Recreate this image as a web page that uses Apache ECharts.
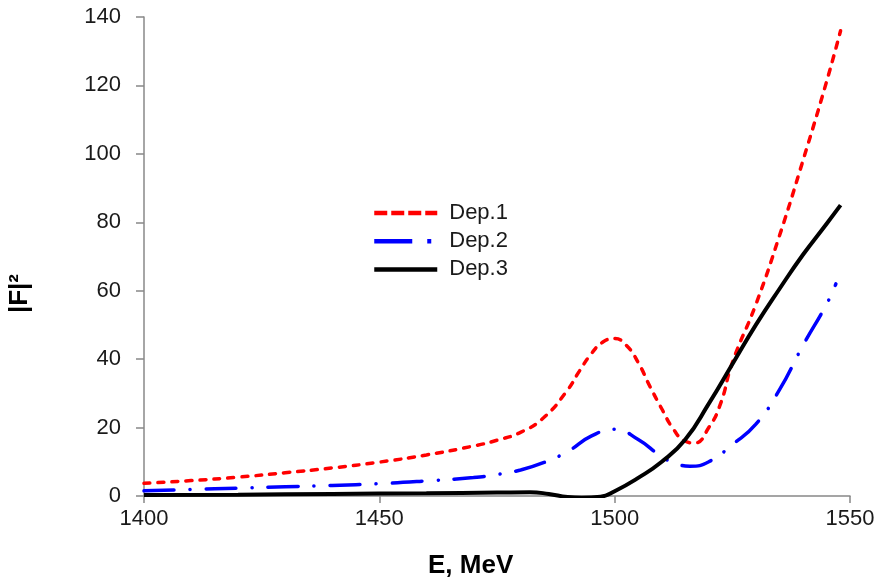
<!DOCTYPE html>
<html>
<head>
<meta charset="utf-8">
<script src="https://cdn.jsdelivr.net/npm/echarts@6/dist/echarts.min.js"></script>
<style>html,body{margin:0;padding:0;background:#fff}#c{width:880px;height:582px}</style>
</head>
<body>
<div id="c"></div>
<script>
var seriesNames = ['Dep.1', 'Dep.2', 'Dep.3'];
var xTicks = [1400, 1450, 1500, 1550];
var yTicks = [0, 20, 40, 60, 80, 100, 120, 140];

var e1 = [1400, 1410, 1420, 1430, 1440, 1450, 1460, 1470, 1475, 1480, 1485, 1490, 1492.5, 1495, 1497.5, 1500, 1502.5, 1505, 1507.5, 1510, 1512.5, 1515, 1517, 1520, 1522.5, 1525, 1530, 1535, 1540, 1545, 1548];
var dep1 = [3.7, 4.5, 5.5, 6.8, 8.2, 9.9, 12.0, 14.6, 16.3, 18.6, 23, 31, 36.5, 41.5, 45, 46, 44, 39, 32, 25.5, 19.5, 16, 15.5, 20, 27, 39, 56, 76, 98, 121, 136];

var e2 = [1400, 1410, 1420, 1430, 1440, 1450, 1460, 1470, 1475, 1480, 1485, 1490, 1495, 1500, 1505, 1510, 1513, 1516, 1520, 1525, 1530, 1535, 1540, 1545, 1547];
var dep2 = [1.5, 1.9, 2.3, 2.7, 3.1, 3.6, 4.4, 5.4, 6.3, 7.6, 9.8, 13, 17.5, 19.5, 16.5, 11.5, 9.5, 8.7, 10, 15, 21, 31, 44, 56, 62];

var e3 = [1400, 1420, 1440, 1460, 1475, 1482, 1486, 1490, 1493, 1497, 1500, 1505, 1510, 1515, 1520, 1525, 1530, 1535, 1540, 1545, 1548];
var dep3 = [0.3, 0.4, 0.6, 0.8, 1.0, 1.1, 0.6, -0.3, -0.5, -0.2, 1.4, 5.3, 10, 16.5, 27, 38.5, 50, 60.5, 70.5, 79.5, 85];

function pairs(xs, ys) { return xs.map(function (x, i) { return [x, ys[i]]; }); }

var chart = echarts.init(document.getElementById('c'));
var font = '"Liberation Sans", Arial, sans-serif';
chart.setOption({
  animation: false,
  backgroundColor: '#fff',
  grid: { left: 144, right: 30, top: 17, bottom: 86, containLabel: false },
  xAxis: {
    type: 'value', min: xTicks[0], max: xTicks[xTicks.length - 1], interval: 50,
    axisLine: { show: true, onZero: false, lineStyle: { color: '#888', width: 1.5 } },
    axisTick: { show: true, length: 7, lineStyle: { color: '#888', width: 1.5 } },
    splitLine: { show: false },
    axisLabel: { margin: 12, fontSize: 22, color: '#1a1a1a', fontFamily: font,
      formatter: function (v) { return String(v); } }
  },
  yAxis: {
    type: 'value', min: yTicks[0], max: yTicks[yTicks.length - 1], interval: 20,
    axisLine: { show: true, lineStyle: { color: '#888', width: 1.5 } },
    axisTick: { show: true, length: 8, lineStyle: { color: '#888', width: 1.5 } },
    splitLine: { show: false },
    axisLabel: { margin: 23, fontSize: 22, color: '#1a1a1a', fontFamily: font,
      formatter: function (v) { return String(v); } }
  },
  legend: {
    orient: 'vertical', left: 372, top: 202, padding: 0,
    itemWidth: 63, itemHeight: 14, itemGap: 6.2,
    itemStyle: { opacity: 0, borderWidth: 0 },
    textStyle: { fontSize: 22, color: '#1a1a1a', fontFamily: font, padding: [0, 0, 0, 7] },
    data: [
      { name: seriesNames[0], lineStyle: { width: 4.5, type: [13, 4], cap: 'butt' } },
      { name: seriesNames[1], lineStyle: { width: 4.5, type: [38, 15, 4, 50], cap: 'butt' } },
      { name: seriesNames[2], lineStyle: { width: 4.5 } }
    ]
  },
  graphic: [
    { type: 'text', left: 7, top: 274,
      style: { text: '|F|²', fill: '#000', font: 'bold 26px ' + font },
      rotation: Math.PI / 2 },
    { type: 'text', left: 428, top: 553,
      style: { text: 'E, MeV', fill: '#000', font: 'bold 26px ' + font } }
  ],
  series: [
    { name: seriesNames[0], type: 'line', smooth: true, symbol: 'none', data: pairs(e1, dep1),
      lineStyle: { color: '#ff0000', width: 3.5, type: [6, 8], cap: 'round' }, itemStyle: { color: '#ff0000' } },
    { name: seriesNames[1], type: 'line', smooth: true, symbol: 'none', data: pairs(e2, dep2),
      lineStyle: { color: '#0000ff', width: 3.5, type: [30, 16, 0.1, 16], cap: 'round' }, itemStyle: { color: '#0000ff' } },
    { name: seriesNames[2], type: 'line', smooth: true, symbol: 'none', data: pairs(e3, dep3),
      lineStyle: { color: '#000000', width: 4 }, itemStyle: { color: '#000000' } }
  ]
});
</script>
</body>
</html>
